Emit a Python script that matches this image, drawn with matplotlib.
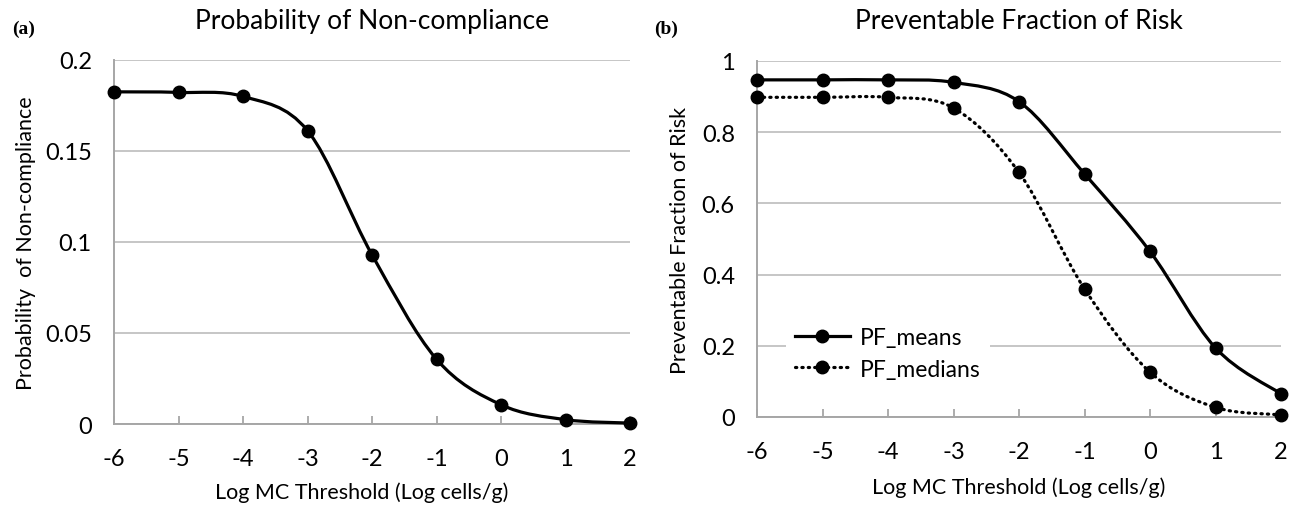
import numpy as np
import matplotlib
matplotlib.use("Agg")
import matplotlib.pyplot as plt
from matplotlib.path import Path
from matplotlib.patches import PathPatch
from matplotlib.lines import Line2D

plt.rcParams['font.family'] = ['Lato', 'DejaVu Sans']

log_threshold = [-6, -5, -4, -3, -2, -1, 0, 1, 2]
p_noncompliance = [0.1825, 0.1822, 0.1800, 0.1612, 0.0930, 0.0356, 0.0106, 0.0024, 0.0005]
pf_means = [0.947, 0.947, 0.947, 0.940, 0.886, 0.683, 0.465, 0.194, 0.065]
pf_medians = [0.898, 0.898, 0.898, 0.868, 0.687, 0.360, 0.126, 0.027, 0.006]
xticks = [-6, -5, -4, -3, -2, -1, 0, 1, 2]

GRID = '#c6c6c6'
AXC = '#a6a6a6'
TICKFS = 17
LABELFS = 15.5
TITLEFS = 19
MS = 9


def smooth_path(x, y):
    pts = np.column_stack([x, y]).astype(float)
    n = len(pts)
    verts = [pts[0]]
    codes = [Path.MOVETO]
    for i in range(n - 1):
        p0 = pts[i - 1] if i > 0 else pts[i]
        p1 = pts[i]
        p2 = pts[i + 1]
        p3 = pts[i + 2] if i + 2 < n else pts[i + 1]
        c1 = p1 + (p2 - p0) / 6.0
        c2 = p2 - (p3 - p1) / 6.0
        verts += [c1, c2, p2]
        codes += [Path.CURVE4] * 3
    return Path(verts, codes)


def style_axes(ax, ymax, ystep, yfmt):
    ax.set_xlim(-6, 2)
    ax.set_ylim(0, ymax)
    yt = np.arange(0, ymax + 1e-9, ystep)
    ax.set_yticks(yt)
    ax.set_yticklabels([yfmt(v) for v in yt])
    ax.set_xticks(xticks)
    ax.set_xticklabels([str(v) for v in xticks])
    ax.grid(axis='y', color=GRID, linewidth=1.4)
    ax.set_axisbelow(True)
    for s in ['top', 'right']:
        ax.spines[s].set_visible(False)
    for s in ['left', 'bottom']:
        ax.spines[s].set_color(AXC)
        ax.spines[s].set_linewidth(1.4)
    ax.tick_params(axis='x', direction='in', length=6, width=1.3, color=AXC,
                   labelsize=TICKFS, pad=17)
    ax.tick_params(axis='y', length=0, labelsize=TICKFS, pad=16)


def fmt_a(v):
    if abs(v) < 1e-9:
        return '0'
    return ('%.2f' % v).rstrip('0').rstrip('.')


def fmt_b(v):
    if abs(v) < 1e-9:
        return '0'
    if abs(v - 1) < 1e-9:
        return '1'
    return '%.1f' % v


fig = plt.figure(figsize=(12.98, 5.10), dpi=100)

ax1 = fig.add_axes([114 / 1298, 1 - 425 / 510, 516 / 1298, 364 / 510])
ax2 = fig.add_axes([757 / 1298, 1 - 418 / 510, 524 / 1298, 356 / 510])

style_axes(ax1, 0.2, 0.05, fmt_a)
style_axes(ax2, 1.0, 0.2, fmt_b)

# panel a
ax1.add_patch(PathPatch(smooth_path(log_threshold, p_noncompliance), fill=False,
                        edgecolor='black', linewidth=2.3, zorder=3, clip_on=False))
ax1.plot(log_threshold, p_noncompliance, linestyle='none', marker='o',
         markersize=MS, color='black', zorder=4, clip_on=False)

# panel b
ax2.add_patch(PathPatch(smooth_path(log_threshold, pf_means), fill=False,
                        edgecolor='black', linewidth=2.3, zorder=3, clip_on=False))
ax2.plot(log_threshold, pf_means, linestyle='none', marker='o',
         markersize=MS, color='black', zorder=4, clip_on=False)
dot_patch = PathPatch(smooth_path(log_threshold, pf_medians), fill=False,
                      edgecolor='black', linewidth=2.3, zorder=3, clip_on=False,
                      linestyle=(0, (0.4, 1.6)), capstyle='round')
ax2.add_patch(dot_patch)
ax2.plot(log_threshold, pf_medians, linestyle='none', marker='o',
         markersize=MS, color='black', zorder=4, clip_on=False)

h_means = Line2D([], [], color='black', linewidth=2.3, marker='o', markersize=MS)
h_medians = Line2D([], [], color='black', linewidth=2.3, marker='o', markersize=MS,
                   linestyle=(0, (0.4, 1.6)), dash_capstyle='round')
leg = ax2.legend([h_means, h_medians], ['PF_means', 'PF_medians'],
                 loc='upper left', bbox_to_anchor=(0.055, 0.278),
                 fontsize=16.5, frameon=True, framealpha=1, edgecolor='none',
                 facecolor='white', fancybox=False, handlelength=2.4,
                 handletextpad=0.45, labelspacing=0.45, borderpad=0.4,
                 borderaxespad=0)

ax1.set_title('Probability of Non-compliance', fontsize=TITLEFS, pad=23)
ax2.set_title('Preventable Fraction of Risk', fontsize=TITLEFS, pad=24)
ax1.set_xlabel('Log MC Threshold (Log cells/g)', fontsize=LABELFS)
ax2.set_xlabel('Log MC Threshold (Log cells/g)', fontsize=LABELFS)
ax1.xaxis.set_label_coords(0.48, -0.158)
ax2.xaxis.set_label_coords(0.5, -0.168)
ax1.set_ylabel('Probability  of Non-compliance', fontsize=LABELFS)
ax2.set_ylabel('Preventable Fraction of Risk', fontsize=LABELFS)
ax1.yaxis.set_label_coords(-0.151, 0.5)
ax2.yaxis.set_label_coords(-0.128, 0.5)

fig.text(12 / 1298, 1 - 29 / 510, '(a)', fontsize=14, fontweight='bold',
         family='Liberation Serif', va='center', ha='left')
fig.text(654 / 1298, 1 - 29 / 510, '(b)', fontsize=14, fontweight='bold',
         family='Liberation Serif', va='center', ha='left')

fig.savefig('out.png', dpi=100, facecolor='white')
